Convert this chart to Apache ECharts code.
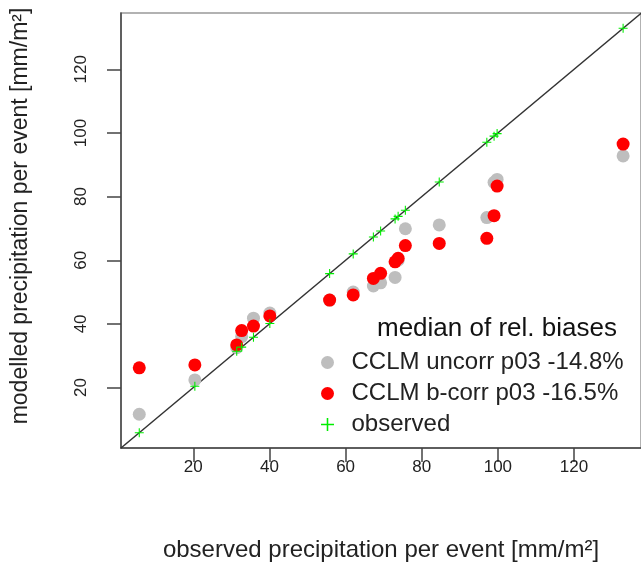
<!DOCTYPE html>
<html>
<head>
<meta charset="UTF-8">
<title>observed vs modelled precipitation</title>
<script src="https://cdn.jsdelivr.net/npm/echarts@6/dist/echarts.min.js"></script>
<style>
  html, body { margin: 0; padding: 0; background: #fff; }
  #main { width: 641px; height: 563px; }
</style>
</head>
<body>
<div id="main"></div>
<script type="text/javascript">
// observed precipitation per event (x), also plotted on the 1:1 line
var observed = [5.8, 20.4, 31.4, 32.7, 35.8, 40.1, 55.8, 62.0, 67.3, 69.2, 73.0, 73.8, 75.7, 84.6, 97.1, 99.0, 99.8, 132.9];
// modelled values (y)
var uncorr = [11.6, 22.4, 32.5, 36.0, 41.8, 43.4, 47.5, 50.0, 51.9, 52.9, 54.6, 60.0, 69.9, 71.1, 73.4, 84.5, 85.4, 92.8];
var bcorr  = [26.2, 27.1, 33.4, 37.9, 39.3, 42.5, 47.5, 49.1, 54.3, 55.9, 59.5, 60.6, 64.6, 65.3, 66.9, 74.0, 83.3, 96.5];
var tickValues = [20, 40, 60, 80, 100, 120];
var xMin = 1, xMax = 137.6, yMin = 1, yMax = 137.7;

var names = ['CCLM uncorr p03 -14.8%', 'CCLM b-corr p03 -16.5%', 'observed'];
var plusIcon = 'path://M4.4,0H5.6V4.4H10V5.6H5.6V10H4.4V5.6H0V4.4H4.4Z';
var font = 'Liberation Sans, Arial, Helvetica, sans-serif';

function pairs(ys) {
    var out = [];
    for (var i = 0; i < observed.length; i++) out.push([observed[i], ys[i]]);
    return out;
}

var axisCommon = {
    type: 'value',
    splitLine: { show: false },
    axisLine: { show: true, lineStyle: { color: '#444', width: 1.5 } },
    axisTick: { show: true, length: 14, lineStyle: { color: '#444', width: 1.5 }, customValues: tickValues },
    axisLabel: { customValues: tickValues, color: '#222', fontSize: 17, fontFamily: font }
};

var option = {
    animation: false,
    grid: { left: 121, right: 0, top: 13, bottom: 115, show: true, borderColor: '#999', borderWidth: 1.5 },
    xAxis: echarts.util.merge({ min: xMin, max: xMax, axisLabel: { margin: 11 } }, axisCommon, true),
    yAxis: echarts.util.merge({ min: yMin, max: yMax, axisLabel: { rotate: 90, margin: 31 } }, axisCommon, true),
    legend: {
        orient: 'vertical', left: 316, top: 345, itemGap: 6,
        itemWidth: 30, itemHeight: 13,
        data: [
            { name: names[0], icon: 'circle' },
            { name: names[1], icon: 'circle' },
            { name: names[2], icon: plusIcon }
        ],
        textStyle: { fontSize: 24, fontFamily: font, color: '#222', lineHeight: 25, padding: [0, 0, 0, 4] },
        selectedMode: false
    },
    graphic: [
        { type: 'text', left: 377, top: 316, style: { text: 'median of rel. biases', font: '26px ' + font, fill: '#111' } },
        { type: 'text', x: 381, y: 550, style: { text: 'observed precipitation per event [mm/m²]', font: '24px ' + font, fill: '#222', textAlign: 'center', textVerticalAlign: 'middle' } },
        { type: 'text', x: 21, y: 216, rotation: Math.PI / 2, style: { text: 'modelled precipitation per event [mm/m²]', font: '23px ' + font, fill: '#222', textAlign: 'center', textVerticalAlign: 'middle' } }
    ],
    series: [
        {
            type: 'line', data: [[xMin, xMin], [yMax, yMax]], symbol: 'none', silent: true,
            lineStyle: { color: '#333', width: 1.5 }, z: 1
        },
        {
            name: names[0], type: 'scatter', data: pairs(uncorr), symbol: 'circle', symbolSize: 13,
            itemStyle: { color: '#bebebe', opacity: 1 }, z: 2
        },
        {
            name: names[1], type: 'scatter', data: pairs(bcorr), symbol: 'circle', symbolSize: 13,
            itemStyle: { color: '#ff0000', opacity: 1 }, z: 3
        },
        {
            name: names[2], type: 'scatter', data: pairs(observed), symbol: plusIcon, symbolSize: 9,
            itemStyle: { color: '#00ee00', opacity: 1 }, z: 4
        }
    ]
};

var myChart = echarts.init(document.getElementById('main'));
myChart.setOption(option);
</script>
</body>
</html>
